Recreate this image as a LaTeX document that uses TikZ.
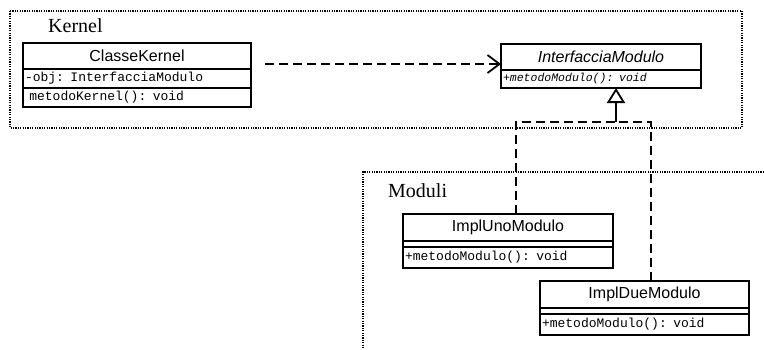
\documentclass[tikz,border=0pt]{standalone}
\usepackage{fontspec}
\usetikzlibrary{arrows.meta,positioning}
\newfontfamily\umlsans{Liberation Sans}
\newfontfamily\umlmono{Liberation Mono}
\newfontfamily\pkgserif{Liberation Serif}

\begin{document}
\begin{tikzpicture}[x=1pt, y=-1pt, node distance=0pt,
    classname/.style={draw, line width=1.8pt, outer sep=0pt, inner sep=0pt, minimum width=#1, minimum height=26pt, font=\umlsans\fontsize{16}{18}\selectfont},
    member/.style={draw, line width=1.8pt, outer sep=0pt, inner xsep=2pt, inner ysep=0pt, text width=#1-4pt, minimum height=19pt, align=left, font=\umlmono\fontsize{13}{15}\selectfont},
    pkglabel/.style={inner sep=0pt, font=\pkgserif\fontsize{20}{22}\selectfont},
    frame/.style={line width=1.2pt, dash pattern=on 1.2pt off 1.2pt},
    dep/.style={line width=1.8pt, dash pattern=on 9pt off 5pt, -{Straight Barb[length=12pt, width=18pt]}},
    real/.style={line width=1.8pt, dash pattern=on 9pt off 5pt},
    gen/.style={line width=1.8pt, -{Triangle[length=15pt, width=18pt, fill=white]}}]
  \useasboundingbox (0,0) rectangle (764,349);

  % Packages
  \draw[frame] (10,11) rectangle (742,128);
  \draw[frame] (764,172) -- (363,172) -- (363,349);
  \node[pkglabel, anchor=base west] (kernel) at (48,32) {Kernel};
  \node[pkglabel, anchor=base west] (moduli) at (388,197) {Moduli};

  % Classes in the Kernel
  \node[classname=228pt, anchor=north west] (ck) at (23,43) {ClasseKernel};
  \node[member=228pt, below=of ck] (ckattr) {-obj: InterfacciaModulo};
  \node[member=228pt, below=of ckattr] (ckop) {\ metodoKernel(): void};

  \node[classname=200pt, anchor=north west, font=\umlsans\itshape\fontsize{16}{18}\selectfont] (im) at (501,44) {InterfacciaModulo};
  \node[member=200pt, minimum height=18pt, below=of im, font=\umlmono\itshape\fontsize{11.5}{13}\selectfont] (imop) {+metodoModulo(): void};

  % Classes in the Moduli
  \node[classname=210pt, minimum height=27pt, anchor=north west] (uno) at (403,214) {ImplUnoModulo};
  \node[member=210pt, minimum height=6pt, below=of uno] (unoattr) {};
  \node[member=210pt, minimum height=21pt, below=of unoattr] (unoop) {+metodoModulo(): void};

  \node[classname=209pt, minimum height=27pt, anchor=north west] (due) at (540,281) {ImplDueModulo};
  \node[member=209pt, minimum height=6pt, below=of due] (dueattr) {};
  \node[member=209pt, minimum height=21pt, below=of dueattr] (dueop) {+metodoModulo(): void};

  % Connectors
  \coordinate (join) at (616,122);
  \draw[dep] ([yshift=-8pt]ck.east) ++(14,0) -- ([yshift=-7pt]im.west);
  \draw[real] ([xshift=8pt]uno.north) |- (join);
  \draw[real] ([xshift=6.5pt]due.north) |- (join);
  \draw[gen] (join) -- ([xshift=15pt]imop.south);
\end{tikzpicture}
\end{document}
